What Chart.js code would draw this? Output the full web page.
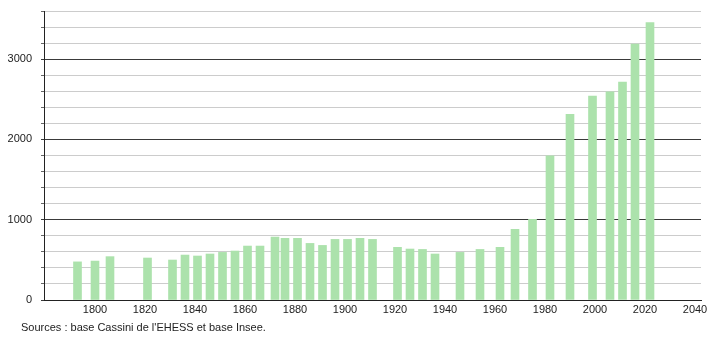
<!DOCTYPE html>
<html>
<head>
<meta charset="utf-8">
<script src="https://cdn.jsdelivr.net/npm/chart.js@4.4.0/dist/chart.umd.min.js"></script>
<style>
  body { margin: 0; background: #fff; }
  #wrap { position: relative; width: 710px; height: 340px; }
  #sources {
    position: absolute; left: 21px; top: 321px;
    font: 11px 'Liberation Sans', Arial, sans-serif; color: #222;
  }
</style>
</head>
<body>
<div id="wrap">
  <canvas id="popChart" width="710" height="340"></canvas>
  <div id="sources">Sources : base Cassini de l'EHESS et base Insee.</div>
</div>
<script>
// census years and population
const years = [1793, 1800, 1806, 1821, 1831, 1836, 1841, 1846, 1851, 1856, 1861, 1866,
  1872, 1876, 1881, 1886, 1891, 1896, 1901, 1906, 1911, 1921, 1926, 1931, 1936,
  1946, 1954, 1962, 1968, 1975, 1982, 1990, 1999, 2006, 2011, 2016, 2022];
const population = [475, 485, 540, 523, 498, 560, 548, 573, 593, 610, 672, 672,
  784, 768, 768, 705, 680, 755, 755, 768, 755, 656, 635, 630, 573,
  593, 630, 656, 880, 1005, 1797, 2312, 2540, 2593, 2714, 3187, 3457];
const xTicks = [1800, 1820, 1840, 1860, 1880, 1900, 1920, 1940, 1960, 1980, 2000, 2020, 2040];
const yLabels = [0, 1000, 2000, 3000];

const font = { family: "'Liberation Sans', Arial, sans-serif", size: 11 };

new Chart(document.getElementById('popChart'), {
  type: 'bar',
  data: {
    datasets: [{
      data: years.map((y, i) => ({ x: y, y: population[i] })),
      backgroundColor: 'rgb(172, 226, 172)',
      barThickness: 8
    }]
  },
  options: {
    responsive: false,
    animation: false,
    layout: { padding: { top: 11, right: 9, left: 0, bottom: 0 } },
    plugins: { legend: { display: false }, tooltip: { enabled: false } },
    scales: {
      x: {
        type: 'linear',
        offset: false,
        min: 1779.6,
        max: 2042.4,
        grid: { display: false, drawTicks: false },
        border: { display: true, color: '#222', width: 1 },
        afterBuildTicks: s => { s.ticks = xTicks.map(v => ({ value: v })); },
        afterFit: s => { s.height = 40; s.paddingLeft = 0; s.paddingRight = 0; },
        ticks: {
          font, color: '#222', padding: 3, maxRotation: 0, autoSkip: false,
          callback: v => String(v)
        }
      },
      y: {
        min: 0,
        max: 3600,
        afterFit: s => { s.width = 44; s.paddingTop = 0; s.paddingBottom = 0; },
        grid: {
          color: c => (c.tick.value % 1000 === 0 ? '#3a3a3a' : '#cccccc'),
          tickColor: c => (c.tick.value % 1000 === 0 ? '#3a3a3a' : '#666'),
          tickLength: 3,
          lineWidth: 1
        },
        border: { display: true, color: '#222', width: 1 },
        ticks: {
          stepSize: 200, maxTicksLimit: 100, autoSkip: false,
          font, color: '#222', padding: 9,
          callback: v => (yLabels.includes(v) ? String(v) : '')
        }
      }
    }
  }
});
</script>
</body>
</html>
